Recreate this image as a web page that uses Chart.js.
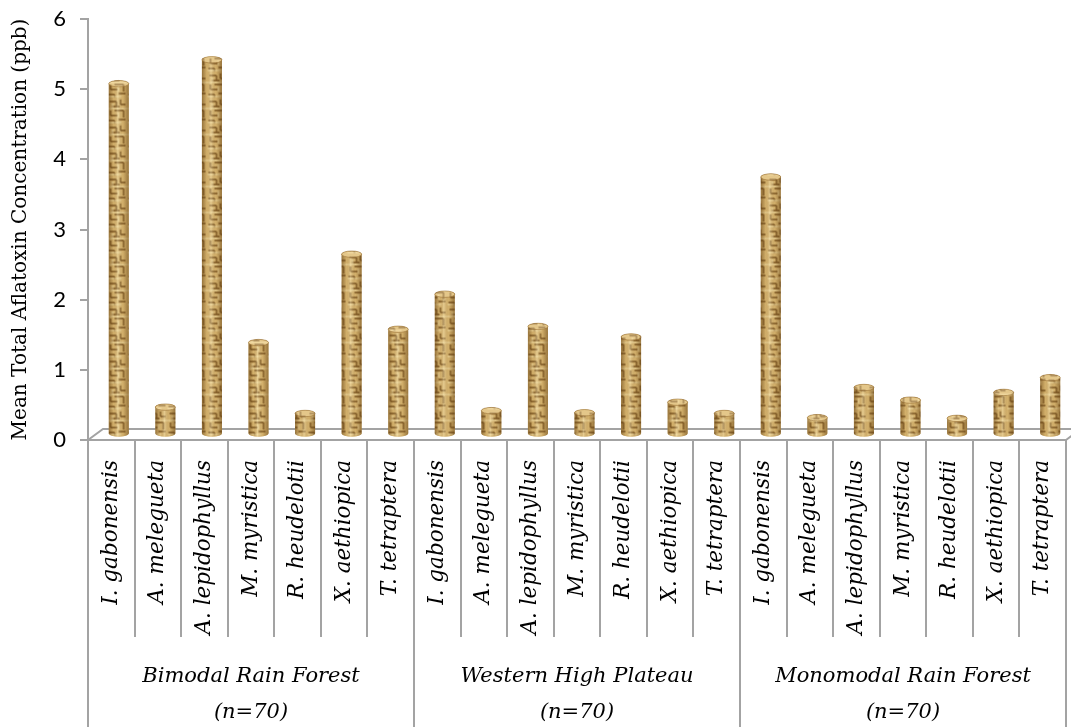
<!DOCTYPE html>
<html>
<head>
<meta charset="utf-8">
<script src="https://cdn.jsdelivr.net/npm/chart.js@4/dist/chart.umd.min.js"></script>
<style>
  html, body { margin: 0; padding: 0; background: #fff; }
  #wrap { width: 1071px; height: 727px; }
</style>
</head>
<body>
<div id="wrap"><canvas id="aflaChart"></canvas></div>
<script>
// species sampled in each zone
const species = ['I. gabonensis', 'A. melegueta', 'A. lepidophyllus', 'M. myristica',
    'R. heudelotii', 'X. aethiopica', 'T. tetraptera'];
const zones = [['Bimodal Rain Forest', '(n=70)'], ['Western High Plateau', '(n=70)'], ['Monomodal Rain Forest', '(n=70)']];

// mean total aflatoxin (ppb)
const bimodal = [5.0, 0.39, 5.34, 1.31, 0.30, 2.57, 1.50];
const highPlateau = [2.0, 0.34, 1.54, 0.31, 1.39, 0.46, 0.30];
const monomodal = [3.67, 0.24, 0.67, 0.49, 0.23, 0.60, 0.81];

const yTicks = [0, 1, 2, 3, 4, 5, 6];

const labels = [];
zones.forEach(() => species.forEach(s => labels.push(s)));
const values = [...bimodal, ...highPlateau, ...monomodal];

const AXIS = '#a3a3a3';
const SERIF = '"DejaVu Serif", serif';
const DEPTH_X = 15, DEPTH_Y = 11;

// little woven texture for the cylinders
function makeTexture() {
    const c = document.createElement('canvas');
    c.width = 20; c.height = 26;
    const g = c.getContext('2d');
    g.fillStyle = '#d9b670';
    g.fillRect(0, 0, 20, 26);
    g.strokeStyle = '#7b5522';
    g.lineWidth = 1.4;
    const segs = [[2, 3, 9, 3], [9, 3, 9, 8], [4, 8, 12, 8], [13, 1, 13, 6], [13, 6, 18, 6],
        [3, 12, 3, 17], [3, 17, 10, 17], [7, 12, 16, 12], [16, 12, 16, 19], [11, 21, 18, 21],
        [1, 22, 7, 22], [7, 22, 7, 25]];
    g.beginPath();
    segs.forEach(s => { g.moveTo(s[0], s[1]); g.lineTo(s[2], s[3]); });
    g.stroke();
    g.strokeStyle = '#f6e2a8';
    g.lineWidth = 1;
    g.beginPath();
    [[0, 10, 20, 10], [0, 24, 14, 24], [5, 5, 5, 10], [11, 14, 11, 19]].forEach(s => { g.moveTo(s[0], s[1]); g.lineTo(s[2], s[3]); });
    g.stroke();
    return c;
}
const texCanvas = makeTexture();

const cylinders = {
    id: 'cylinders',
    beforeDatasetsDraw(chart) {
        const { ctx, chartArea: a } = chart;
        ctx.save();
        ctx.strokeStyle = AXIS;
        ctx.lineWidth = 2;
        ctx.beginPath();
        ctx.moveTo(a.left, a.bottom);
        ctx.lineTo(a.left + DEPTH_X, a.bottom - DEPTH_Y);
        ctx.lineTo(a.right + DEPTH_X, a.bottom - DEPTH_Y);
        ctx.moveTo(a.right, a.bottom);
        ctx.lineTo(a.right + DEPTH_X, a.bottom - DEPTH_Y);
        ctx.stroke();
        ctx.restore();
    },
    afterDatasetsDraw(chart) {
        const { ctx } = chart;
        const pattern = ctx.createPattern(texCanvas, 'repeat');
        const meta = chart.getDatasetMeta(0);
        ctx.save();
        ctx.translate(DEPTH_X / 2, -DEPTH_Y / 2);
        meta.data.forEach(bar => {
            const { x, y, base, width } = bar.getProps(['x', 'y', 'base', 'width'], true);
            const rx = width / 2, ry = 3.2;
            const l = x - rx, r = x + rx;
            const body = new Path2D();
            body.moveTo(l, y);
            body.lineTo(l, base);
            body.ellipse(x, base, rx, ry, 0, Math.PI, 0, true);
            body.lineTo(r, y);
            body.ellipse(x, y, rx, ry, 0, 0, Math.PI, true);
            body.closePath();
            ctx.fillStyle = pattern;
            ctx.fill(body);
            const shade = ctx.createLinearGradient(l, 0, r, 0);
            shade.addColorStop(0, 'rgba(95,60,15,0.55)');
            shade.addColorStop(0.25, 'rgba(95,60,15,0.05)');
            shade.addColorStop(0.45, 'rgba(255,245,205,0.35)');
            shade.addColorStop(0.7, 'rgba(95,60,15,0.05)');
            shade.addColorStop(1, 'rgba(95,60,15,0.55)');
            ctx.fillStyle = shade;
            ctx.fill(body);
            const cap = new Path2D();
            cap.ellipse(x, y, rx, ry, 0, 0, Math.PI * 2);
            ctx.fillStyle = pattern;
            ctx.fill(cap);
            ctx.fillStyle = 'rgba(255,240,200,0.3)';
            ctx.fill(cap);
            ctx.strokeStyle = 'rgba(150,110,50,0.7)';
            ctx.lineWidth = 0.8;
            ctx.stroke(cap);
        });
        ctx.restore();
    },
    afterDraw(chart) {
        const { ctx } = chart;
        const xs = chart.scales.x;
        const n = labels.length;
        const step = xs.width / n;
        ctx.save();
        ctx.strokeStyle = AXIS;
        ctx.lineWidth = 2;
        ctx.beginPath();
        for (let i = 0; i <= n; i++) {
            const px = Math.round(xs.left + i * step);
            ctx.moveTo(px, xs.top);
            ctx.lineTo(px, i % species.length === 0 ? chart.height : xs.top + 197);
        }
        ctx.stroke();
        ctx.fillStyle = '#000';
        ctx.font = 'italic 21px ' + SERIF;
        ctx.textAlign = 'center';
        ctx.textBaseline = 'middle';
        zones.forEach((z, gi) => {
            const cx = (xs.getPixelForValue(gi * species.length) + xs.getPixelForValue((gi + 1) * species.length - 1)) / 2;
            ctx.fillText(z[0], cx, xs.top + 237);
            ctx.fillText(z[1], cx, xs.top + 273);
        });
        ctx.restore();
    }
};

new Chart(document.getElementById('aflaChart'), {
    type: 'bar',
    data: {
        labels: labels,
        datasets: [{
            data: values,
            backgroundColor: 'rgba(0,0,0,0)',
            borderWidth: 0,
            categoryPercentage: 1,
            barPercentage: 0.43
        }]
    },
    options: {
        responsive: true,
        maintainAspectRatio: false,
        animation: false,
        layout: { padding: { top: 19, right: 5, left: 0, bottom: 0 } },
        plugins: { legend: { display: false }, tooltip: { enabled: false } },
        scales: {
            x: {
                afterFit: s => { s.height = 287; s.paddingLeft = 0; s.paddingRight = 0; },
                grid: { display: false, drawTicks: false },
                border: { display: true, color: AXIS, width: 2 },
                ticks: {
                    autoSkip: false,
                    minRotation: 90,
                    maxRotation: 90,
                    padding: 20,
                    color: '#000',
                    font: { family: SERIF, style: 'italic', size: 21.5 }
                }
            },
            y: {
                min: yTicks[0],
                max: yTicks[yTicks.length - 1],
                afterFit: s => { s.width = 88; s.paddingTop = 0; s.paddingBottom = 0; },
                afterBuildTicks: s => { s.ticks = yTicks.map(v => ({ value: v })); },
                grid: { drawOnChartArea: false, drawTicks: true, tickLength: 8, color: AXIS, lineWidth: 2 },
                border: { display: true, color: AXIS, width: 2 },
                ticks: { padding: 14, color: '#000', font: { family: 'Lato', size: 22 } },
                title: {
                    display: true,
                    text: 'Mean Total Aflatoxin Concentration (ppb)',
                    color: '#000',
                    padding: { top: 9, bottom: 0 },
                    font: { family: SERIF, size: 20 }
                }
            }
        }
    },
    plugins: [cylinders]
});
</script>
</body>
</html>
